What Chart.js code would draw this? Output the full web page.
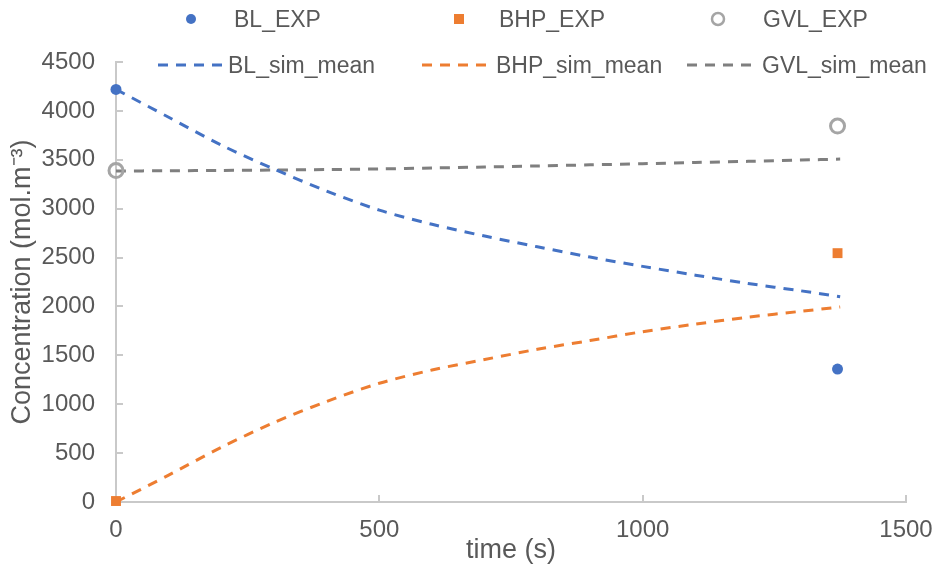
<!DOCTYPE html>
<html>
<head>
<meta charset="utf-8">
<script src="https://cdn.jsdelivr.net/npm/chart.js@4"></script>
<style>
  body { margin: 0; background: #fff; }
  #wrap { position: relative; width: 941px; height: 570px; font-family: "Liberation Sans", Arial, sans-serif; }
  #legend .item { position: absolute; font-size: 23px; color: #595959; line-height: 28px; white-space: nowrap; }
  #legend svg { position: absolute; }
</style>
</head>
<body>
<div id="wrap">
  <canvas id="chart-conc" width="941" height="570"></canvas>
  <div id="legend"></div>
</div>
<script>
// experimental points
var expTime = [0, 1370];
var blExp = [4220, 1360];
var bhpExp = [10, 2545];
var gvlExp = [3390, 3845];

// simulated means
var simTime = [0, 100, 200, 300, 400, 500, 600, 700, 800, 900, 1000, 1100, 1200, 1300, 1375];
var blSim = [4220, 3935, 3650, 3405, 3180, 2985, 2840, 2720, 2610, 2505, 2410, 2320, 2235, 2160, 2100];
var bhpSim = [0, 275, 560, 812, 1028, 1214, 1350, 1457, 1562, 1651, 1742, 1819, 1890, 1950, 1995];
var gvlSim = [3385, 3388, 3391, 3395, 3400, 3406, 3416, 3426, 3437, 3448, 3460, 3472, 3484, 3497, 3507];

var xTicks = [0, 500, 1000, 1500];
var yTicks = [0, 500, 1000, 1500, 2000, 2500, 3000, 3500, 4000, 4500];

var BLUE = '#4472C4', ORANGE = '#ED7D31', LGRAY = '#A5A5A5', DGRAY = '#7F7F7F';
var TXT = '#595959', AXIS = '#C9C9C9';

function toXY(xs, ys) {
  var out = [];
  for (var i = 0; i < xs.length; i++) out.push({x: xs[i], y: ys[i]});
  return out;
}

function simSet(label, ys, color) {
  return {
    label: label, data: toXY(simTime, ys), showLine: true,
    borderColor: color, borderWidth: 3, borderDash: [10, 8],
    pointRadius: 0, tension: 0.3, clip: false, order: 2
  };
}

// inward tick marks like the excel original
var innerTicks = {
  id: 'innerTicks',
  beforeDatasetsDraw: function(chart) {
    var ctx = chart.ctx, xs = chart.scales.x, ys = chart.scales.y;
    var area = chart.chartArea;
    ctx.save();
    ctx.strokeStyle = AXIS;
    ctx.lineWidth = 2;
    ctx.beginPath();
    xTicks.forEach(function(v) {
      if (v == 0) return;
      var px = Math.round(xs.getPixelForValue(v));
      ctx.moveTo(px, area.bottom);
      ctx.lineTo(px, area.bottom - 7);
    });
    yTicks.forEach(function(v) {
      if (v == 0) return;
      var py = Math.round(ys.getPixelForValue(v));
      ctx.moveTo(area.left, py);
      ctx.lineTo(area.left + 7, py);
    });
    ctx.stroke();
    ctx.restore();
  }
};

var fontFam = '"Liberation Sans", Arial, sans-serif';
var plain = function(v) { return String(v); };

new Chart(document.getElementById('chart-conc'), {
  type: 'scatter',
  data: {
    datasets: [
      {label: 'BL_EXP', data: toXY(expTime, blExp), backgroundColor: BLUE, borderColor: BLUE,
       pointStyle: 'circle', pointRadius: 5.5, borderWidth: 0, clip: false, order: 1},
      {label: 'BHP_EXP', data: toXY(expTime, bhpExp), backgroundColor: ORANGE, borderColor: ORANGE,
       pointStyle: 'rect', pointRadius: 7, borderWidth: 0, clip: false, order: 1},
      {label: 'GVL_EXP', data: toXY(expTime, gvlExp), backgroundColor: 'rgba(0,0,0,0)', borderColor: LGRAY,
       pointStyle: 'circle', pointRadius: 7, borderWidth: 3, clip: false, order: 1},
      simSet('BL_sim_mean', blSim, BLUE),
      simSet('BHP_sim_mean', bhpSim, ORANGE),
      simSet('GVL_sim_mean', gvlSim, DGRAY)
    ]
  },
  options: {
    responsive: false,
    animation: false,
    layout: {padding: {top: 62, right: 35, left: 0, bottom: 0}},
    plugins: {legend: {display: false}, tooltip: {enabled: false}},
    scales: {
      x: {
        type: 'linear', min: 0, max: 1500,
        afterBuildTicks: function(s) { s.ticks = xTicks.map(function(v) { return {value: v}; }); },
        afterFit: function(s) { s.height = 68; s.paddingLeft = 0; s.paddingRight = 0; },
        grid: {display: true, drawOnChartArea: false, drawTicks: false},
        border: {display: true, color: AXIS, width: 2},
        ticks: {color: TXT, padding: 14, callback: plain, font: {family: fontFam, size: 24}},
        title: {display: true, text: 'time (s)', color: TXT, padding: {top: 0, bottom: 3},
                font: {family: fontFam, size: 27}}
      },
      y: {
        type: 'linear', min: 0, max: 4500,
        afterBuildTicks: function(s) { s.ticks = yTicks.map(function(v) { return {value: v}; }); },
        afterFit: function(s) { s.width = 116; s.paddingTop = 0; s.paddingBottom = 0; },
        grid: {display: true, drawOnChartArea: false, drawTicks: false},
        border: {display: true, color: AXIS, width: 2},
        ticks: {color: TXT, padding: 21, callback: plain, font: {family: fontFam, size: 24}},
        title: {display: true, text: 'Concentration (mol.m⁻³)', color: TXT, padding: {top: 6, bottom: 0},
                font: {family: fontFam, size: 27}}
      }
    }
  },
  plugins: [innerTicks]
});

// legend, 3 columns x 2 rows like the original
var legendItems = [
  {text: 'BL_EXP', kind: 'dot', color: BLUE, mx: 191, tx: 234, row: 0},
  {text: 'BHP_EXP', kind: 'square', color: ORANGE, mx: 459, tx: 499, row: 0},
  {text: 'GVL_EXP', kind: 'ring', color: LGRAY, mx: 718, tx: 763, row: 0},
  {text: 'BL_sim_mean', kind: 'dash', color: BLUE, mx: 158, tx: 228, row: 1},
  {text: 'BHP_sim_mean', kind: 'dash', color: ORANGE, mx: 422, tx: 496, row: 1},
  {text: 'GVL_sim_mean', kind: 'dash', color: DGRAY, mx: 687, tx: 762, row: 1}
];
var rowY = [19, 65];
var legend = document.getElementById('legend');
legendItems.forEach(function(it) {
  var cy = rowY[it.row];
  var svg = '';
  if (it.kind == 'dot') {
    svg = '<svg width="16" height="16" style="left:' + (it.mx - 8) + 'px;top:' + (cy - 8) + 'px"><circle cx="8" cy="8" r="5" fill="' + it.color + '"/></svg>';
  } else if (it.kind == 'square') {
    svg = '<svg width="16" height="16" style="left:' + (it.mx - 8) + 'px;top:' + (cy - 8) + 'px"><rect x="3" y="3" width="10" height="10" fill="' + it.color + '"/></svg>';
  } else if (it.kind == 'ring') {
    svg = '<svg width="20" height="20" style="left:' + (it.mx - 10) + 'px;top:' + (cy - 10) + 'px"><circle cx="10" cy="10" r="6" fill="none" stroke="' + it.color + '" stroke-width="2.5"/></svg>';
  } else {
    svg = '<svg width="64" height="10" style="left:' + it.mx + 'px;top:' + (cy - 5) + 'px"><line x1="0" y1="5" x2="64" y2="5" stroke="' + it.color + '" stroke-width="3" stroke-dasharray="10,8"/></svg>';
  }
  legend.innerHTML += svg + '<div class="item" style="left:' + it.tx + 'px;top:' + (cy - 14) + 'px">' + it.text + '</div>';
});
</script>
</body>
</html>
